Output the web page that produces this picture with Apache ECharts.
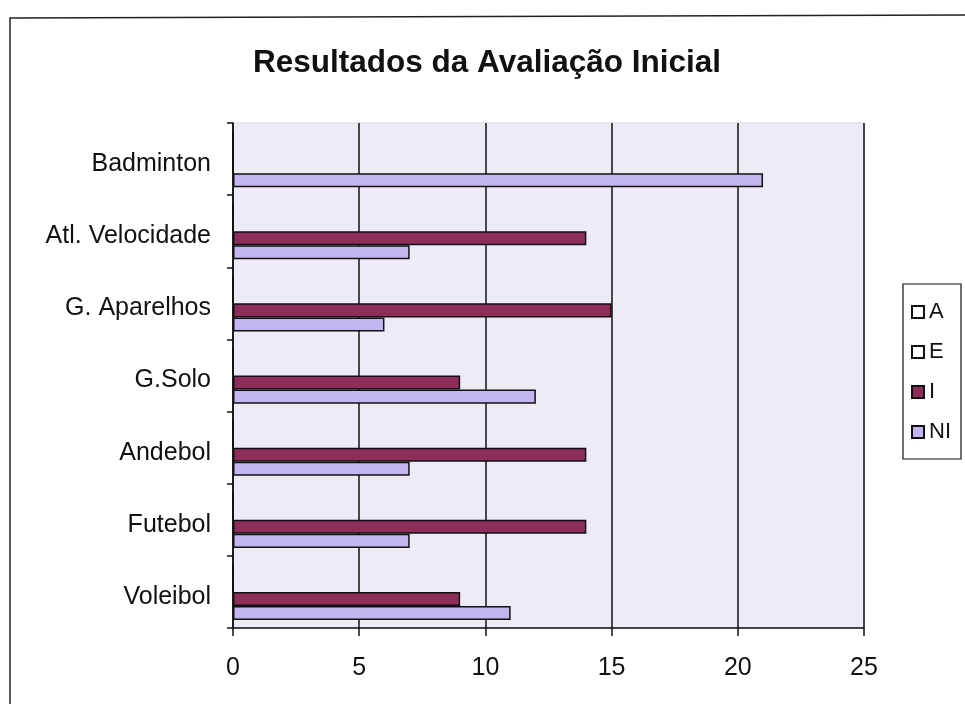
<!DOCTYPE html>
<html>
<head>
<meta charset="utf-8">
<script src="https://cdn.jsdelivr.net/npm/echarts@6/dist/echarts.min.js"></script>
<style>
  html, body { margin: 0; padding: 0; background: #ffffff; }
  #chart { width: 965px; height: 704px; }
</style>
</head>
<body>
<div id="chart"></div>
<script>
// Modalidades (de baixo para cima no eixo)
const categories = ['Voleibol', 'Futebol', 'Andebol', 'G.Solo', 'G. Aparelhos', 'Atl. Velocidade', 'Badminton'];
// Número de alunos por nível
const valuesA  = [0, 0, 0, 0, 0, 0, 0];
const valuesE  = [0, 0, 0, 0, 0, 0, 0];
const valuesI  = [9, 14, 14, 9, 15, 14, 0];
const valuesNI = [11, 7, 7, 12, 6, 7, 21];
const seriesNames = ['A', 'E', 'I', 'NI'];
const xTicks = { min: 0, max: 25, interval: 5 };

const FONT = '"Liberation Sans", Arial, sans-serif';
const colors = { A: '#ffffff', E: '#ffffff', I: '#8e2c5a', NI: '#c4b5ee' };

function barSeries(name, data) {
  return {
    name: name,
    type: 'bar',
    data: data,
    barGap: '0%',
    barCategoryGap: '22%',
    itemStyle: { color: colors[name], borderColor: '#111111', borderWidth: 1.5 },
    emphasis: { disabled: true },
    animation: false
  };
}

const chart = echarts.init(document.getElementById('chart'), null, { renderer: 'canvas' });
chart.setOption({
  animation: false,
  backgroundColor: '#ffffff',
  title: {
    text: 'Resultados da Avaliação Inicial',
    left: 253,
    top: 47,
    padding: 0,
    textStyle: { fontFamily: FONT, fontSize: 31.5, fontWeight: 'bold', color: '#111111' }
  },
  legend: {
    data: seriesNames,
    orient: 'vertical',
    left: 903,
    top: 284,
    padding: [17, 10, 16, 8],
    itemGap: 18,
    itemWidth: 12,
    itemHeight: 12,
    icon: 'rect',
    borderColor: '#111111',
    borderWidth: 1.2,
    backgroundColor: '#ffffff',
    textStyle: { fontFamily: FONT, fontSize: 22, color: '#111111', lineHeight: 20, padding: [0, 0, 0, 0] }
  },
  grid: {
    left: 233, top: 123, width: 631, height: 505,
    show: true,
    backgroundColor: '#eeeaf6',
    borderColor: '#d8d2ea',
    borderWidth: 1,
    containLabel: false
  },
  xAxis: {
    type: 'value',
    min: xTicks.min,
    max: xTicks.max,
    interval: xTicks.interval,
    axisLine: { show: true, lineStyle: { color: '#111111', width: 1.5 } },
    axisTick: { show: true, length: 8, lineStyle: { color: '#111111', width: 1.5 } },
    axisLabel: { fontFamily: FONT, fontSize: 25, color: '#111111', margin: 28 },
    splitLine: { show: true, lineStyle: { color: '#111111', width: 1.5 } }
  },
  yAxis: {
    type: 'category',
    data: categories,
    axisLine: { show: true, lineStyle: { color: '#111111', width: 1.5 } },
    axisTick: { show: true, length: 6, lineStyle: { color: '#111111', width: 1.5 } },
    axisLabel: { fontFamily: FONT, fontSize: 25, color: '#111111', margin: 22, verticalAlign: 'top', lineHeight: 10 },
    splitLine: { show: false }
  },
  series: [
    barSeries('A', valuesA),
    barSeries('E', valuesE),
    barSeries('I', valuesI),
    barSeries('NI', valuesNI)
  ],
  graphic: [
    {
      type: 'polyline',
      shape: { points: [[10, 704], [10, 18], [965, 15]] },
      style: { stroke: '#222222', lineWidth: 1.5, fill: null },
      silent: true
    }
  ]
});
</script>
</body>
</html>
